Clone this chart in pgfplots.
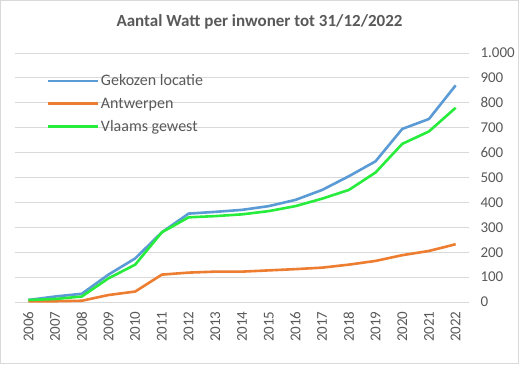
\documentclass[border=0pt]{standalone}
\usepackage{pgfplots}
\pgfplotsset{compat=1.18}
\usepackage{fontspec}
\setmainfont{Carlito}
\definecolor{cblue}{HTML}{5B9BD5}
\definecolor{corange}{HTML}{ED7D31}
\definecolor{cgreen}{RGB}{40,236,60}
\definecolor{cgrid}{HTML}{D9D9D9}
\definecolor{ctext}{HTML}{595959}
\begin{document}
\begin{tikzpicture}[x=1pt,y=1pt]
\fill[white] (0,0) rectangle (519,364);
\draw[cgrid,line width=1pt] (0.5,0.5) rectangle (518.5,363.5);
\node[font=\fontsize{17}{19}\selectfont\bfseries,text=ctext] at (259.5,342) {Aantal Watt per inwoner tot 31/12/2022};
\begin{axis}[
  at={(15pt,62pt)}, anchor=south west,
  scale only axis, width=454pt, height=249pt,
  xmin=-0.5, xmax=16.5, ymin=0, ymax=1000,
  xtick={0,...,16},
  xticklabels={2006,2007,2008,2009,2010,2011,2012,2013,2014,2015,2016,2017,2018,2019,2020,2021,2022},
  xticklabel shift=6pt,
  xticklabel style={rotate=90, anchor=east, font=\fontsize{15}{17}\selectfont, text=ctext},
  ytick={0,100,...,1000},
  yticklabel pos=right,
  yticklabel style={anchor=west, xshift=8pt, font=\fontsize{15}{17}\selectfont, text=ctext, /pgf/number format/1000 sep={.}},
  /pgf/number format/assume math mode=true,
  ymajorgrids, grid style={cgrid, line width=0.8pt},
  axis line style={draw=none},
  major tick style={draw=none},
  legend style={at={(0.062,0.93)}, anchor=north west, draw=none, fill=none,
     font=\fontsize{16}{18}\selectfont, text=ctext, row sep=6.5pt,
     /tikz/every even column/.append style={column sep=2pt}},
  legend cell align=left,
  legend image code/.code={\draw[#1] (0pt,0pt) -- (50pt,0pt);},
  every axis plot/.append style={line width=2.6pt, line join=round, mark=none},
]
\addplot[cblue] coordinates {(0,8) (1,22) (2,33) (3,110) (4,175) (5,280) (6,355) (7,362) (8,370) (9,385) (10,410) (11,450) (12,505) (13,565) (14,695) (15,735) (16,870)};
\addlegendentry{Gekozen locatie}
\addplot[corange] coordinates {(0,3) (1,3) (2,5) (3,28) (4,42) (5,110) (6,118) (7,122) (8,122) (9,127) (10,132) (11,138) (12,150) (13,165) (14,188) (15,205) (16,232)};
\addlegendentry{Antwerpen}
\addplot[cgreen] coordinates {(0,8) (1,12) (2,22) (3,95) (4,150) (5,280) (6,340) (7,345) (8,352) (9,365) (10,385) (11,415) (12,450) (13,520) (14,635) (15,685) (16,780)};
\addlegendentry{Vlaams gewest}
\end{axis}
\end{tikzpicture}
\end{document}
